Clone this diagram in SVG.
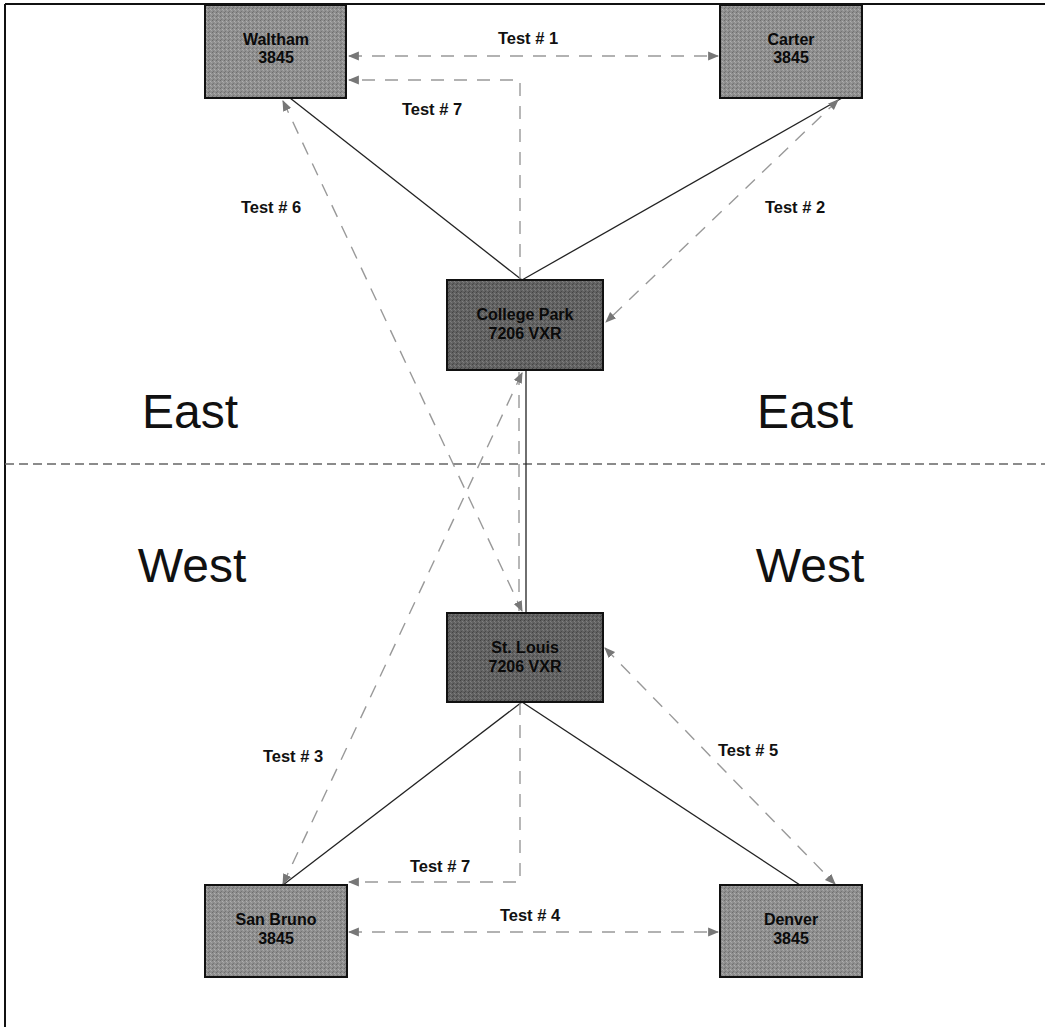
<svg xmlns="http://www.w3.org/2000/svg" width="1045" height="1027" viewBox="0 0 1045 1027">
<defs>
<pattern id="lt" width="4" height="4" patternUnits="userSpaceOnUse">
<rect width="4" height="4" fill="#8f8f8f"/>
<rect x="0" y="0" width="1" height="1" fill="#6e6e6e"/>
<rect x="2" y="1" width="1" height="1" fill="#b0b0b0"/>
<rect x="1" y="3" width="1" height="1" fill="#767676"/>
<rect x="3" y="2" width="1" height="1" fill="#a6a6a6"/>
</pattern>
<pattern id="dk" width="4" height="4" patternUnits="userSpaceOnUse">
<rect width="4" height="4" fill="#626262"/>
<rect x="0" y="0" width="1" height="1" fill="#444"/>
<rect x="2" y="1" width="1" height="1" fill="#808080"/>
<rect x="1" y="3" width="1" height="1" fill="#4a4a4a"/>
<rect x="3" y="2" width="1" height="1" fill="#7a7a7a"/>
</pattern>
<marker id="ah" viewBox="0 0 10 10" refX="9" refY="5" markerWidth="11" markerHeight="11" markerUnits="userSpaceOnUse" orient="auto-start-reverse">
<path d="M0,1 L10,5 L0,9 Z" fill="#777"/>
</marker>
<style>
.box{stroke:#111;stroke-width:2}
.lt{fill:url(#lt)}
.dk{fill:url(#dk)}
.nt{font-family:"Liberation Sans",Arial,sans-serif;font-weight:bold;font-size:16px;fill:#0a0a0a;text-anchor:middle}
.lbl{font-family:"Liberation Sans",Arial,sans-serif;font-weight:bold;font-size:16.5px;fill:#111;text-anchor:middle}
.big{font-family:"Liberation Sans",Arial,sans-serif;font-size:48px;fill:#111;text-anchor:middle}
.solid{stroke:#222;stroke-width:1.3;fill:none}
.dash{stroke:#999;stroke-width:1.4;fill:none;stroke-dasharray:13 10}
.div{stroke:#666;stroke-width:1.5;fill:none;stroke-dasharray:9 5}
</style>
</defs>
<rect width="1045" height="1027" fill="#fff"/>
<g id="frame">
<line x1="5" y1="4" x2="5" y2="1027" stroke="#111" stroke-width="2"/>
<line x1="5" y1="4" x2="1045" y2="4" stroke="#111" stroke-width="2"/>
<line x1="5" y1="464" x2="1045" y2="464" class="div"/>
</g>
<g id="regions">
<text class="big" x="190" y="428">East</text>
<text class="big" x="805" y="428">East</text>
<text class="big" x="192" y="582">West</text>
<text class="big" x="810" y="582">West</text>
</g>
<g id="connectors">
<line class="solid" x1="522" y1="280" x2="290" y2="98"/>
<line class="solid" x1="522" y1="280" x2="842" y2="98"/>
<line class="solid" x1="526" y1="370" x2="526" y2="613"/>
<line class="solid" x1="522" y1="702" x2="283" y2="885"/>
<line class="solid" x1="522" y1="702" x2="800" y2="885"/>
<line class="dash" x1="349" y1="56" x2="718" y2="56" marker-start="url(#ah)" marker-end="url(#ah)"/>
<polyline class="dash" points="520,280 520,80 349,80" marker-end="url(#ah)"/>
<line class="dash" x1="519" y1="372" x2="519" y2="611"/>
<polyline class="dash" points="520,702 520,882 349,882" marker-end="url(#ah)"/>
<line class="dash" x1="349" y1="932" x2="718" y2="932" marker-start="url(#ah)" marker-end="url(#ah)"/>
<line class="dash" x1="838" y1="100" x2="606" y2="322" marker-start="url(#ah)" marker-end="url(#ah)"/>
<line class="dash" x1="283" y1="101" x2="522" y2="611" marker-start="url(#ah)" marker-end="url(#ah)"/>
<line class="dash" x1="522" y1="373" x2="283" y2="884" marker-start="url(#ah)" marker-end="url(#ah)"/>
<line class="dash" x1="605" y1="648" x2="835" y2="884" marker-start="url(#ah)" marker-end="url(#ah)"/>
<text class="lbl" x="528" y="44">Test # 1</text>
<text class="lbl" x="432" y="115">Test # 7</text>
<text class="lbl" x="271" y="213">Test # 6</text>
<text class="lbl" x="795" y="213">Test # 2</text>
<text class="lbl" x="293" y="762">Test # 3</text>
<text class="lbl" x="748" y="756">Test # 5</text>
<text class="lbl" x="440" y="872">Test # 7</text>
<text class="lbl" x="530" y="921">Test # 4</text>
</g>
<g id="waltham">
<rect class="box lt" x="205" y="5" width="141" height="93"/>
<text class="nt" x="276" y="45">Waltham</text>
<text class="nt" x="276" y="63">3845</text>
</g>
<g id="carter">
<rect class="box lt" x="720" y="5" width="142" height="93"/>
<text class="nt" x="791" y="45">Carter</text>
<text class="nt" x="791" y="63">3845</text>
</g>
<g id="college-park">
<rect class="box dk" x="447" y="280" width="156" height="90"/>
<text class="nt" x="525" y="320">College Park</text>
<text class="nt" x="525" y="339">7206 VXR</text>
</g>
<g id="st-louis">
<rect class="box dk" x="447" y="613" width="156" height="89"/>
<text class="nt" x="525" y="653">St. Louis</text>
<text class="nt" x="525" y="672">7206 VXR</text>
</g>
<g id="san-bruno">
<rect class="box lt" x="205" y="885" width="142" height="92"/>
<text class="nt" x="276" y="925">San Bruno</text>
<text class="nt" x="276" y="944">3845</text>
</g>
<g id="denver">
<rect class="box lt" x="720" y="885" width="142" height="92"/>
<text class="nt" x="791" y="925">Denver</text>
<text class="nt" x="791" y="944">3845</text>
</g>
</svg>
